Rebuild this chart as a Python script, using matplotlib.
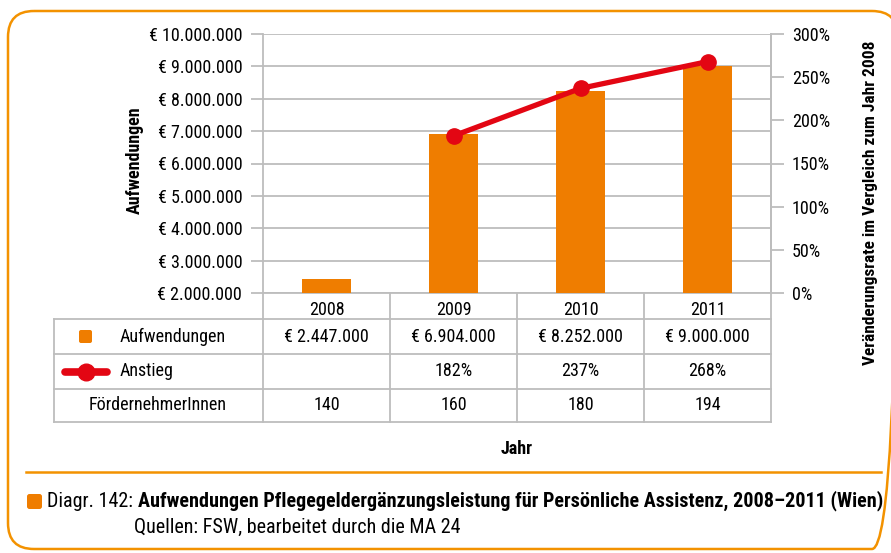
import matplotlib
matplotlib.use("Agg")
import matplotlib.pyplot as plt
from matplotlib import font_manager
from matplotlib.patches import FancyBboxPatch
from matplotlib.lines import Line2D

# police étroite si disponible, sinon Roboto
installees = {f.name for f in font_manager.fontManager.ttflist}
etroites = ["Liberation Sans Narrow", "Roboto Condensed", "Open Sans Condensed", "Noto Sans Condensed"]
police = next((p for p in etroites if p in installees), "Roboto")
etroite = police != "Roboto"
plt.rcParams['font.family'] = [police, 'DejaVu Sans']

FS = 13 if etroite else 11.5        # tailles de texte
FS_CAP = 14.5 if etroite else 11.3
FS_RLAB = 12.5 if etroite else 10.5

# données
annees = ["2008", "2009", "2010", "2011"]
aufwendungen = [2447000, 6904000, 8252000, 9000000]
anstieg = [None, 182, 237, 268]
foerdernehmer = [140, 160, 180, 194]
yticks_euro = [2000000, 3000000, 4000000, 5000000, 6000000, 7000000, 8000000, 9000000, 10000000]
yticks_pct = [0, 50, 100, 150, 200, 250, 300]

ORANGE = "#ef7d00"
ROT = "#e30613"
GRAU = "#bdbdbd"
W, H = 891, 553


def euro(v):
    return "€ " + f"{v:,}".replace(",", ".")


fig = plt.figure(figsize=(W / 100, H / 100), dpi=100)

# fond en pixels (cadre, tableau, légende)
bg = fig.add_axes([0, 0, 1, 1])
bg.set_xlim(0, W)
bg.set_ylim(H, 0)
bg.axis("off")
bg.add_patch(FancyBboxPatch((8, 11), 890, 538, boxstyle="round,pad=0,rounding_size=26",
                            fill=False, edgecolor="#f39200", lw=1.8))

# graphique principal
ax = fig.add_axes([263 / W, 1 - 293 / H, 508 / W, 259 / H])
x = list(range(len(annees)))
ax.bar(x, aufwendungen, width=0.39, color=ORANGE, zorder=3)
ax.set_xlim(-0.5, 3.5)
ax.set_ylim(2000000, 10000000)
ax.set_yticks(yticks_euro)
ax.set_yticklabels([euro(v) for v in yticks_euro], fontsize=FS)
ax.yaxis.grid(True, color=GRAU, lw=1.3, zorder=0)
ax.set_xticks(x)
ax.set_xticklabels(annees, fontsize=FS)
ax.tick_params(axis="x", length=0, pad=6)
ax.tick_params(axis="y", length=9, color=GRAU, width=1.3, pad=6)
ax.spines["top"].set_visible(False)
for s in ["left", "right", "bottom"]:
    ax.spines[s].set_color(GRAU)
    ax.spines[s].set_linewidth(1.3)

ax2 = ax.twinx()
ax2.plot(x[1:], anstieg[1:], color=ROT, lw=3.8, marker="o", ms=11, zorder=5)
ax2.set_ylim(0, 300)
ax2.set_yticks(yticks_pct)
ax2.set_yticklabels([f"{v}%" for v in yticks_pct], fontsize=FS)
ax2.tick_params(axis="y", length=9, color=GRAU, width=1.3, pad=6)
for s in ["top", "left", "bottom"]:
    ax2.spines[s].set_visible(False)
ax2.spines["right"].set_color(GRAU)
ax2.spines["right"].set_linewidth(1.3)

# tableau de données
col_x = [263, 390, 517, 644, 771]
row_y = [319, 354, 389, 422]
for yy in row_y:
    bg.plot([54, 771], [yy, yy], color=GRAU, lw=1.3)
bg.plot([54, 54], [row_y[0], row_y[-1]], color=GRAU, lw=1.3)
for xx in col_x:
    bg.plot([xx, xx], [293, row_y[-1]], color=GRAU, lw=1.3)

centres = [(col_x[i] + col_x[i + 1]) / 2 for i in range(4)]
rc = [(row_y[i] + row_y[i + 1]) / 2 for i in range(3)]
for i in range(4):
    bg.text(centres[i], rc[0], euro(aufwendungen[i]), ha="center", va="center", fontsize=FS)
    if anstieg[i] is not None:
        bg.text(centres[i], rc[1], f"{anstieg[i]}%", ha="center", va="center", fontsize=FS)
    bg.text(centres[i], rc[2], str(foerdernehmer[i]), ha="center", va="center", fontsize=FS)

bg.add_patch(FancyBboxPatch((79, rc[0] - 6.5), 13, 13, boxstyle="round,pad=0,rounding_size=2",
                            facecolor=ORANGE, edgecolor="none"))
bg.add_line(Line2D([65, 107], [rc[1], rc[1]], color=ROT, lw=5.5, solid_capstyle="round"))
bg.plot([86], [rc[1]], "o", color=ROT, ms=12)
bg.text(120, rc[0], "Aufwendungen", ha="left", va="center", fontsize=FS)
bg.text(120, rc[1], "Anstieg", ha="left", va="center", fontsize=FS)
bg.text(158, rc[2], "FördernehmerInnen", ha="center", va="center", fontsize=FS)

# titres des axes
bg.text(135, 160, "Aufwendungen", rotation=90, ha="center", va="center",
        fontsize=FS, fontweight="bold")
bg.text(871, 203, "Veränderungsrate im Vergleich zum Jahr 2008", rotation=90,
        ha="center", va="center", fontsize=FS_RLAB, fontweight="bold")
bg.text(517, 449, "Jahr", ha="center", va="center", fontsize=FS, fontweight="bold")

# légende du diagramme
bg.plot([26, 881], [472, 472], color="#f39200", lw=1.8)
bg.add_patch(FancyBboxPatch((27, 494), 15, 15, boxstyle="round,pad=0,rounding_size=2.5",
                            facecolor=ORANGE, edgecolor="none"))
t1 = bg.text(47, 507, "Diagr. 142: ", ha="left", va="baseline", fontsize=FS_CAP)
bg.annotate("Aufwendungen Pflegegeldergänzungsleistung für Persönliche Assistenz, 2008–2011 (Wien)",
            xy=(1, 0), xycoords=t1, ha="left", va="bottom", fontsize=FS_CAP, fontweight="bold")
bg.text(134, 533, "Quellen: FSW, bearbeitet durch die MA 24", ha="left", va="baseline", fontsize=FS_CAP)

fig.savefig("out.png", dpi=100)
